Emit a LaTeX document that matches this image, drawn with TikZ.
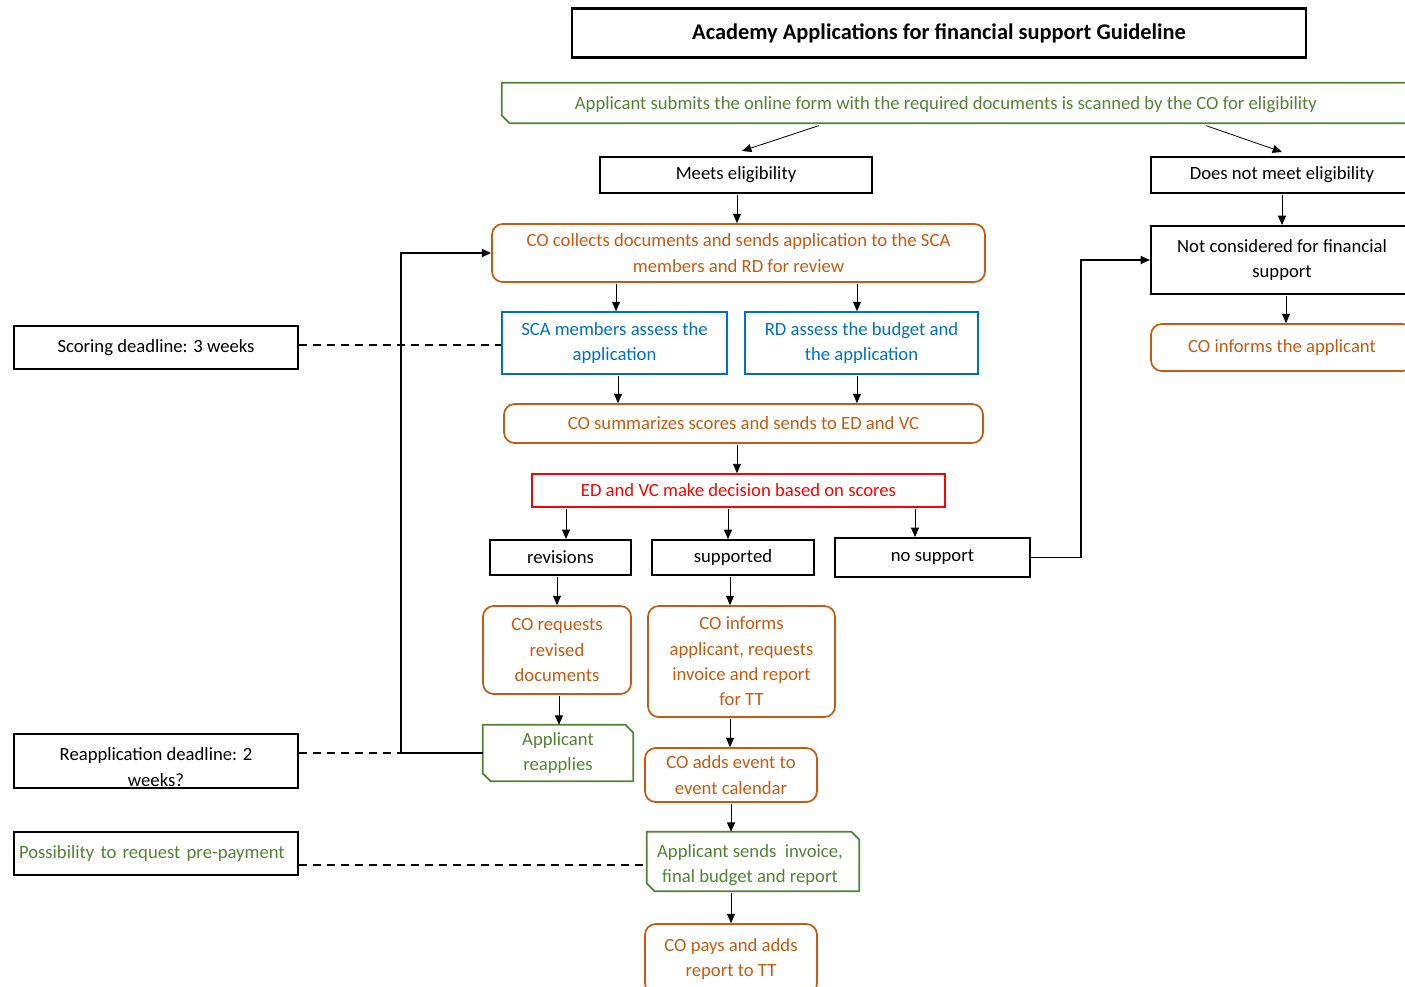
\documentclass[tikz,border=0pt]{standalone}
\usepackage{fontspec}
\setmainfont{Carlito}
\usetikzlibrary{arrows.meta,calc}
\definecolor{orng}{HTML}{C55A11}
\definecolor{grn}{HTML}{548235}
\definecolor{blu}{HTML}{0070C0}
\definecolor{redc}{HTML}{FF0000}
\tikzset{
 sz/.style 2 args={minimum width=#1*0.75pt, minimum height=#2*0.75pt},
 base/.style={inner sep=0pt, align=center, font=\fontsize{14}{19}\selectfont},
 blk/.style={base, draw, line width=1.5pt},
 org/.style={base, draw=orng, text=orng, line width=1.3pt, rounded corners=8pt},
 blubox/.style={base, draw=blu, text=blu, line width=1.3pt},
 redbox/.style={base, draw=redc, text=redc, line width=1.2pt},
 grnbox/.style={base, text=grn},
 arr/.style={line width=0.6pt, -{Triangle[length=7pt,width=6pt]}, shorten <=1pt},
 arrthick/.style={line width=1.4pt, -{Triangle[length=7pt,width=6pt]}},
 dsh/.style={line width=1.4pt, dash pattern=on 6pt off 4.5pt},
 chf/.style={draw=grn, line width=1.3pt}
}
\newcommand\chamfbox[1]{\draw[chf] (#1.north west) -- ([xshift=-6pt]#1.north east) -- ([yshift=-6pt]#1.north east) -- (#1.south east) -- ([xshift=6pt]#1.south west) -- ([yshift=6pt]#1.south west) -- cycle;}
\begin{document}
\begin{tikzpicture}[x=0.75pt,y=-0.75pt]
\useasboundingbox (0,0) rectangle (1405,986);
\clip (0,0) rectangle (1405,986);
\node[blk, line width=1.8pt, sz={734}{49}, font=\fontsize{16.8}{20}\bfseries\selectfont] (title) at (939,33) {Academy Applications for financial support Guideline};
\node[grnbox, sz={918}{40}] (submit) at (961,103) {};
\chamfbox{submit}
\node[base, text=grn] (submittext) at (946,105) {Applicant submits the online form with the required documents is scanned by the CO for eligibility};
\node[blk, sz={272}{36}] (meets) at (736,175) {Meets eligibility};
\node[blk, sz={262}{36}] (notmeet) at (1282,175) {Does not meet eligibility};
\node[org, sz={493}{58}] (collect) at (738.5,253) {CO collects documents and sends application to the SCA\\members and RD for review};
\node[blubox, sz={225}{62}] (sca) at (614.5,343) {SCA members assess the\\application};
\node[blubox, sz={233}{62}] (rd) at (861.5,343) {RD assess the budget and\\the application};
\node[org, sz={479}{39}] (summ) at (743.5,423.5) {CO summarizes scores and sends to ED and VC};
\node[redbox, sz={413}{33}] (ed) at (738.5,490.5) {ED and VC make decision based on scores};
\node[blk, sz={141}{35}] (rev) at (560.5,557.5) {revisions};
\node[blk, sz={162}{35}] (sup) at (733,557.5) {supported};
\node[blk, sz={195}{39}] (nosup) at (932.5,557.5) {no support};
\node[org, sz={148}{88}] (req) at (557,650) {CO requests\\revised\\documents};
\node[org, sz={187}{111}] (inf) at (741.5,661.5) {CO informs\\applicant, requests\\invoice and report\\for TT};
\node[grnbox, sz={150}{56}] (reapp) at (558,753) {Applicant\\reapplies};
\chamfbox{reapp}
\node[org, sz={172}{54}] (addev) at (731,775) {CO adds event to\\event calendar};
\node[grnbox, sz={212}{59}] (sends) at (753,861.5) {};
\chamfbox{sends}
\node[base, text=grn] (sendstext) at (750,865) {Applicant sends\ \ invoice,\\final budget and report};
\node[org, sz={172}{70}] (pays) at (731,959) {CO pays and adds\\report to TT};
\node[blk, sz={262}{68}] (notcons) at (1282,260) {Not considered for financial\\support};
\node[org, sz={262}{47}] (coinf) at (1282,347.5) {CO informs the applicant};
\node[blk, sz={284}{43}] (score) at (156,347.5) {Scoring deadline: 3 weeks};
\node[blk, sz={284}{54}] (rdead) at (156,761) {};
\node[base] (rdeadtext) at (156,767) {Reapplication deadline: 2\\weeks?};
\node[blk, sz={284}{43}, text=grn, text width=274*0.75pt, align=left, inner xsep=5*0.75pt] (poss) at (156,853.5) {Possibility to request pre-payment};
% arrows
\draw[arr] ($(submit.south)+(-141,2)$) -- ($(meets.north)+(6,-5)$);
\draw[arr] ($(submit.south)+(244,2)$) -- ($(notmeet.north)+(0,-4)$);
\foreach \a/\b/\x in {meets/collect/737, notmeet/notcons/1282, notcons/coinf/1286,
  collect/sca/616, collect/rd/857, sca/summ/618, rd/summ/857, summ/ed/737,
  ed/rev/566, ed/sup/728, ed/nosup/915, rev/req/557, sup/inf/730,
  req/reapp/559, inf/addev/730, addev/sends/731, sends/pays/731}
  \draw[arr] (\a.south -| \x,0) -- (\b.north -| \x,0);
% loops
\draw[arrthick] (reapp.west) -- (reapp.west -| 401,0) |- (collect.west);
\draw[arrthick] (nosup.east) -- (nosup.east -| 1081,0) |- (notcons.west);
% dashed
\coordinate (sc) at ($(score.east)+(0,-2.5)$);
\draw[dsh] (sc) -- (sc -| sca.west);
\draw[dsh] (reapp.west -| rdead.east) -- (reapp.west);
\coordinate (pp) at ($(sends.west)+(0,3.5)$);
\draw[dsh] (pp -| poss.east) -- (pp);
\end{tikzpicture}
\end{document}
